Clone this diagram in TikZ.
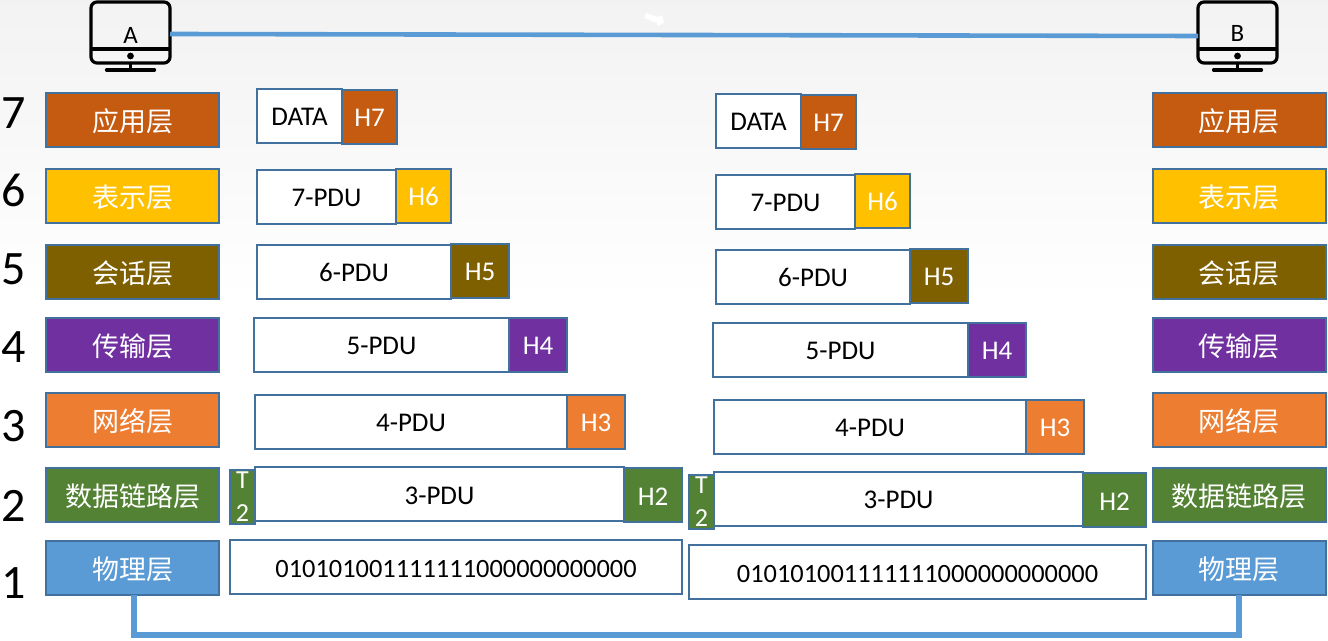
\documentclass[tikz,border=0pt]{standalone}
\usepackage{fontspec}
\setmainfont{Carlito}
\newfontfamily\cjk{Noto Sans CJK SC}
\usetikzlibrary{calc,positioning}
\definecolor{edgeblue}{HTML}{41719C}
\definecolor{linkblue}{HTML}{5B9BD5}
\definecolor{appcol}{HTML}{C55A11}
\definecolor{precol}{HTML}{FFC000}
\definecolor{sescol}{HTML}{7F6000}
\definecolor{tracol}{HTML}{7030A0}
\definecolor{netcol}{HTML}{ED7D31}
\definecolor{dllcol}{HTML}{548235}
\definecolor{phycol}{HTML}{5B9BD5}
\tikzset{
     layerbox/.style={draw=edgeblue, line width=1pt, outer sep=0pt, inner sep=0pt, minimum width=86.5pt, minimum height=27pt, text=white, text height=12.9pt, text depth=1.6pt, font=\cjk\fontsize{13.5}{15}\selectfont},
     unitbox/.style={draw=edgeblue, fill=white, line width=1pt, outer sep=0pt, inner sep=0pt, minimum height=27pt},
     pdubox/.style={unitbox, text height=10pt, text depth=0pt, font=\fontsize{13.5}{15}\selectfont},
     hdrbox/.style={pdubox, text=white},
     tailbox/.style={unitbox, text=white, minimum width=12.5pt, align=center, font=\fontsize{13}{16.5}\selectfont},
     levelnum/.style={font=\fontsize{24}{26}\selectfont},
     screen/.style={draw=black, line width=1.6pt, rounded corners=3pt, minimum width=39.5pt, minimum height=30.5pt, outer sep=0pt},
     monitorpart/.style={black, line width=1.6pt},
     toplink/.style={linkblue, line width=2.3pt},
     buslink/.style={linkblue, line width=3.3pt},
}
\begin{document}
\begin{tikzpicture}[x=0.5pt,y=-0.5pt]
        \useasboundingbox (0,0) rectangle (1328,641);
        % backdrop, fading out downwards
        \shade[top color=black!5, bottom color=white] (0,0) rectangle (1328,300);

        % the two hosts
        \foreach \host/\x/\ty in {A/130.5/35, B/1237.5/33} {
            \node [screen] (pc\host) at (\x,32.5) {};
            \node (lbl\host) at (\x,\ty) {\fontsize{12.5}{14}\selectfont\host};
            \draw[monitorpart] ($(pc\host.west)+(0,16.5)$) -- ($(pc\host.east)+(0,16.5)$);
            \fill ($(pc\host.center)+(0,23.5)$) circle (1.7pt);
            \draw[monitorpart] ($(pc\host.south)$) -- ++(0,7);
            \draw[monitorpart, line cap=round] ($(pc\host.south)+(-24,7)$) -- ++(48,0);
        }
        \draw[toplink] ([yshift=-0.75pt]pcA.east) -- ([yshift=-1.75pt]pcB.west);
        \fill[white] (644,18) -- (646,13) -- (658,17) -- (662,15) -- (664,23) -- (657,26) -- (657,23) -- cycle;

        % layer names, both sides
        \foreach \side/\x in {l/132.5, r/1239} {
            \foreach \lay/\txt/\col/\y in {app/应用层/appcol/120, pre/表示层/precol/196, ses/会话层/sescol/272,
                    tra/传输层/tracol/345, net/网络层/netcol/420, dll/数据链路层/dllcol/495, phy/物理层/phycol/568} {
                \node [layerbox, fill=\col] (\lay\side) at (\x,\y) {\txt};
            }
        }

        % level numbers
        \foreach \n/\y in {7/113, 6/190, 5/269, 4/347, 3/426, 2/506, 1/583} {
            \node [levelnum] (num\n) at (14,\y) {\n};
        }

        % data units with their headers
        \foreach \side/\dx/\dy/\hw/\bw in {l/0/0/29/226, r/459/5/31.5/228.5} {
            \begin{scope}[shift={(\dx,\dy)}]
            \foreach \id/\txt/\x/\w/\y/\hdr/\col/\hy/\thw in {
                    a/DATA/299.5/85/116/H7/appcol/1/27.5,
                    b/7-PDU/326.5/139/197/H6/precol/-1/27.5,
                    c/6-PDU/354/194/272/H5/sescol/-1/29,
                    d/5-PDU/381.5/255/345/H4/tracol/0/29,
                    e/4-PDU/411/312/422/H3/netcol/0/29,
                    f/3-PDU/439.5/369/494/H2/dllcol/1/\hw} {
                \node [pdubox, minimum width=\w*0.5pt] (pdu\id\side) at (\x,\y) {\txt};
                \node [hdrbox, fill=\col, minimum width=\thw*1pt, right=0pt of pdu\id\side, yshift=-\hy*0.5pt] (hdr\id\side) {\hdr};
            }
            \node [tailbox, fill=dllcol, left=0pt of pduf\side, yshift=-1.5pt] (tail\side) {T\\2};
            \end{scope}
            \node [pdubox, minimum width=\bw*1pt, anchor=west, font=\fontsize{13.2}{15}\selectfont] (bits\side) at (230+\dx,567+\dy) {010101001111111000000000000};
        }

        % cable between the physical layers
        \coordinate (busmid) at (700,635);
        \draw[buslink] ([xshift=0.75pt]phyl.south) |- (busmid) -| (phyr.south);
    \end{tikzpicture}
\end{document}
